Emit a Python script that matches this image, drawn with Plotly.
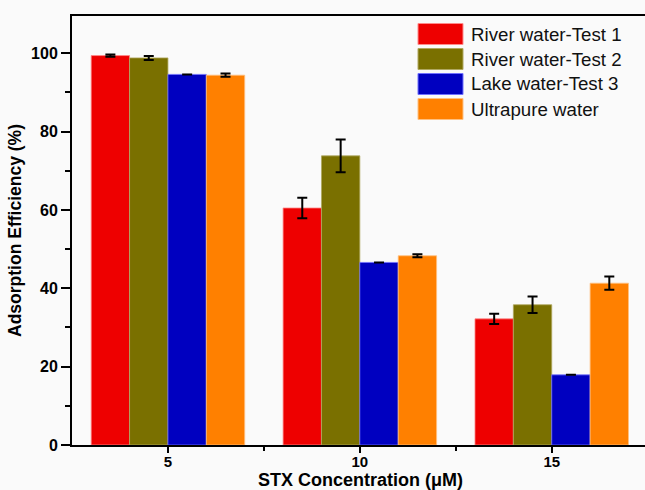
import plotly.graph_objects as go

concentrations = [5, 10, 15]
series_names = ["River water-Test 1", "River water-Test 2", "Lake water-Test 3", "Ultrapure water"]
river1 = [99.4, 60.5, 32.2]
river1_err = [0.3, 2.6, 1.3]
river2 = [98.8, 73.8, 35.8]
river2_err = [0.5, 4.2, 2.1]
lake3 = [94.6, 46.6, 17.9]
lake3_err = [0.0, 0.0, 0.0]
ultrapure = [94.4, 48.3, 41.3]
ultrapure_err = [0.4, 0.4, 1.7]

colors = ["#ee0000", "#7a7000", "#0000c0", "#ff8000"]
edge_colors = ["#ff8a8a", "#b0a860", "#7070ff", "#ffc080"]
values = [river1, river2, lake3, ultrapure]
errors = [river1_err, river2_err, lake3_err, ultrapure_err]

bg = "#fafafa"
FONT = "Liberation Sans, Arial"
fig = go.Figure()
for name, v, e, c, ec in zip(series_names, values, errors, colors, edge_colors):
    fig.add_trace(go.Bar(
        x=concentrations, y=v, name=name,
        marker=dict(color=c, line=dict(color=ec, width=0.8)),
        error_y=dict(type="data", array=e, visible=True, color="black",
                     thickness=2, width=5),
        showlegend=False,
    ))

# custom legend (large swatches like the original)
PL, PW, PB, PH = 72, 573, 445, 429
for i, (name, c, ec) in enumerate(zip(series_names, colors, edge_colors)):
    yc = 34 + 25 * i
    fig.add_shape(type="rect", xref="paper", yref="paper",
                  x0=(418 - PL) / PW, x1=(463 - PL) / PW,
                  y0=(PB - (yc - 10.5)) / PH, y1=(PB - (yc + 10.5)) / PH,
                  fillcolor=c, line=dict(color=ec, width=1))
    fig.add_annotation(xref="paper", yref="paper",
                       x=(469 - PL) / PW, y=(PB - yc) / PH,
                       text=name, showarrow=False, xanchor="left", yanchor="middle",
                       font=dict(family=FONT, size=18.7, color="#111"))

# x-axis title as annotation for exact placement
fig.add_annotation(xref="paper", yref="paper", x=(360 - PL) / PW, y=(PB - 491) / PH,
                   text="<b>STX Concentration (μM)</b>", showarrow=False,
                   xanchor="center", yanchor="bottom", borderpad=0,
                   font=dict(family=FONT, size=18, color="black"))

fig.update_layout(
    width=645, height=490,
    margin=dict(l=72, r=0, t=16, b=45),
    paper_bgcolor=bg, plot_bgcolor=bg,
    barmode="group", bargap=0.2, bargroupgap=0,
    font=dict(family=FONT, color="black"),
)
fig.update_xaxes(
    range=[2.5, 17.43], tickmode="array", tickvals=concentrations,
    ticktext=[str(c) for c in concentrations],
    ticks="outside", ticklen=6, tickwidth=2, tickcolor="black",
    ticklabelstandoff=-4,
    minor=dict(tickvals=[7.5, 12.5], ticks="outside", ticklen=4, tickwidth=1.5, tickcolor="black"),
    showline=True, linewidth=2, linecolor="black", mirror=True,
    showgrid=False, zeroline=False,
    tickfont=dict(size=15, family=FONT, weight="bold"),
)
fig.update_yaxes(
    range=[0, 109.5], tickmode="array", tickvals=[0, 20, 40, 60, 80, 100],
    ticks="outside", ticklen=9, tickwidth=2, tickcolor="black",
    minor=dict(tickvals=[10, 30, 50, 70, 90], ticks="outside", ticklen=5, tickwidth=1.5, tickcolor="black"),
    showline=True, linewidth=2, linecolor="black", mirror=False,
    showgrid=False, zeroline=False,
    tickfont=dict(size=16, family=FONT, weight="bold"),
    title=dict(text="Adsorption Efficiency (%)", standoff=5,
               font=dict(size=17.5, family=FONT, weight="bold")),
)
fig.write_html("out.html")
